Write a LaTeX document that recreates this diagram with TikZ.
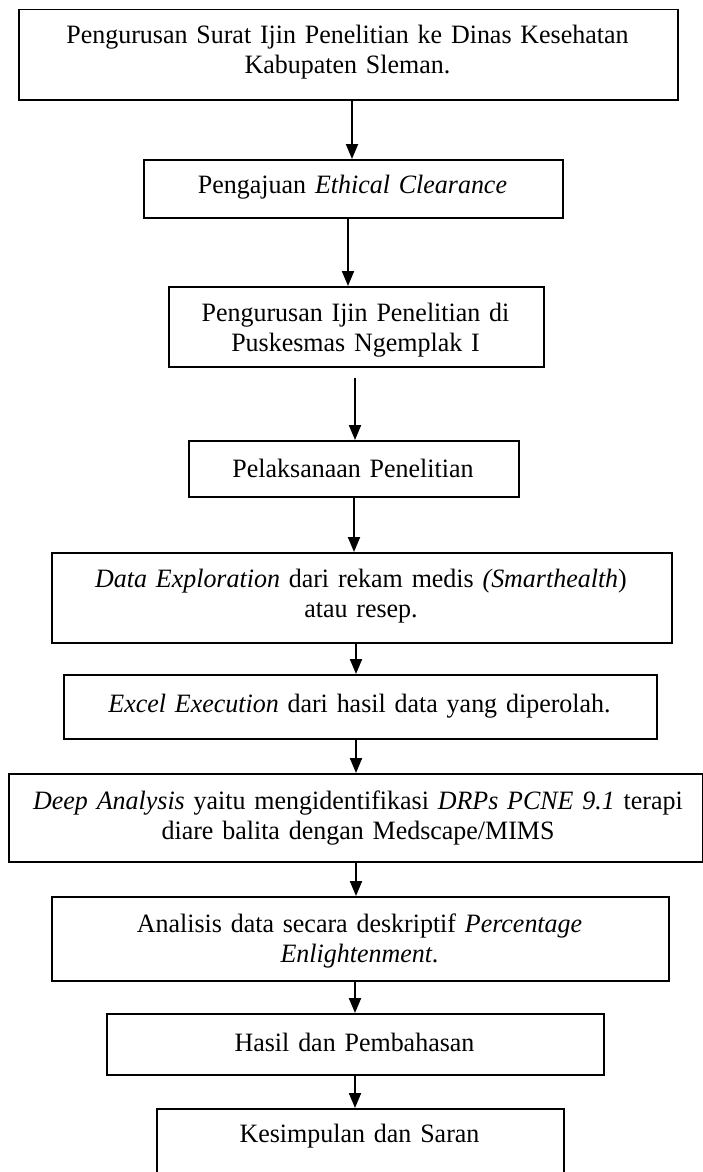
\documentclass[tikz,border=0pt]{standalone}
\usepackage{fontspec}
\setmainfont[FakeStretch=0.98]{Liberation Serif}
\usetikzlibrary{arrows.meta}
\begin{document}
\begin{tikzpicture}[x=1pt,y=-1pt,
  stepbox/.style={draw, line width=1.5pt, inner sep=0pt, anchor=north west},
  boxtext/.style={anchor=base, align=center, inner sep=0pt,
    font=\fontsize{26.5}{30}\selectfont},
  flow/.style={-{Triangle[length=15pt,width=12pt]}, line width=2pt}]
\useasboundingbox (0,0) rectangle (702,1172);

% boxes: top-left corner, size
\node[stepbox, minimum width=659pt, minimum height=90pt] (b1) at (18,9) {};
\node[stepbox, minimum width=419pt, minimum height=58pt] (b2) at (143,159) {};
\node[stepbox, minimum width=375pt, minimum height=80pt] (b3) at (168,286) {};
\node[stepbox, minimum width=330pt, minimum height=56pt] (b4) at (188,440) {};
\node[stepbox, minimum width=620pt, minimum height=90pt] (b5) at (51,552) {};
\node[stepbox, minimum width=593pt, minimum height=64pt] (b6) at (63,674) {};
\node[stepbox, minimum width=693.5pt, minimum height=88pt] (b7) at (8,773) {};
\node[stepbox, minimum width=617pt, minimum height=84pt] (b8) at (51,896) {};
\node[stepbox, minimum width=497pt, minimum height=61pt] (b9) at (106,1013) {};
\node[stepbox, minimum width=407pt, minimum height=80pt] (b10) at (156,1108) {};

% texts, placed on the baseline of their first line
\node[boxtext, text width=659pt] (t1) at (347.5,44)
  {Pengurusan Surat Ijin Penelitian ke Dinas Kesehatan\\Kabupaten Sleman.};
\node[boxtext, text width=419pt] (t2) at (352.5,193)
  {Pengajuan \textit{Ethical Clearance}};
\node[boxtext, text width=375pt] (t3) at (355.5,321)
  {Pengurusan Ijin Penelitian di\\Puskesmas Ngemplak I};
\node[boxtext, text width=330pt] (t4) at (353,477)
  {Pelaksanaan Penelitian};
\node[boxtext, text width=620pt] (t5) at (361,587)
  {\textit{Data Exploration} dari rekam medis \textit{(Smarthealth})\\atau resep.};
\node[boxtext, text width=593pt] (t6) at (359.5,712)
  {\textit{Excel Execution} dari hasil data yang diperolah.};
\node[boxtext, text width=693pt] (t7) at (358,809)
  {\textit{Deep Analysis} yaitu mengidentifikasi \textit{DRPs PCNE 9.1} terapi\\diare balita dengan Medscape/MIMS};
\node[boxtext, text width=617pt] (t8) at (359.5,932)
  {Analisis data secara deskriptif \textit{Percentage}\\\textit{Enlightenment}.};
\node[boxtext, text width=497pt] (t9) at (354.5,1051)
  {Hasil dan Pembahasan};
\node[boxtext, text width=407pt] (t10) at (359.5,1142)
  {Kesimpulan dan Saran};

% arrow columns
\coordinate (c1) at (352,0);
\coordinate (c2) at (348,0);
\coordinate (c3) at (355,0);
\coordinate (c4) at (354,0);
\coordinate (c5) at (356,0);
\coordinate (c6) at (356,0);
\coordinate (c7) at (356,0);
\coordinate (c8) at (355,0);
\coordinate (c9) at (355,0);

\draw[flow] (c1 |- b1.south) -- (c1 |- b2.north);
\draw[flow] (c2 |- b2.south) -- (c2 |- b3.north);
\draw[flow] ([yshift=-10pt]c3 |- b3.south) -- (c3 |- b4.north);
\draw[flow] (c4 |- b4.south) -- (c4 |- b5.north);
\draw[flow] (c5 |- b5.south) -- (c5 |- b6.north);
\draw[flow] (c6 |- b6.south) -- (c6 |- b7.north);
\draw[flow] (c7 |- b7.south) -- (c7 |- b8.north);
\draw[flow] (c8 |- b8.south) -- (c8 |- b9.north);
\draw[flow] (c9 |- b9.south) -- (c9 |- b10.north);
\end{tikzpicture}
\end{document}
